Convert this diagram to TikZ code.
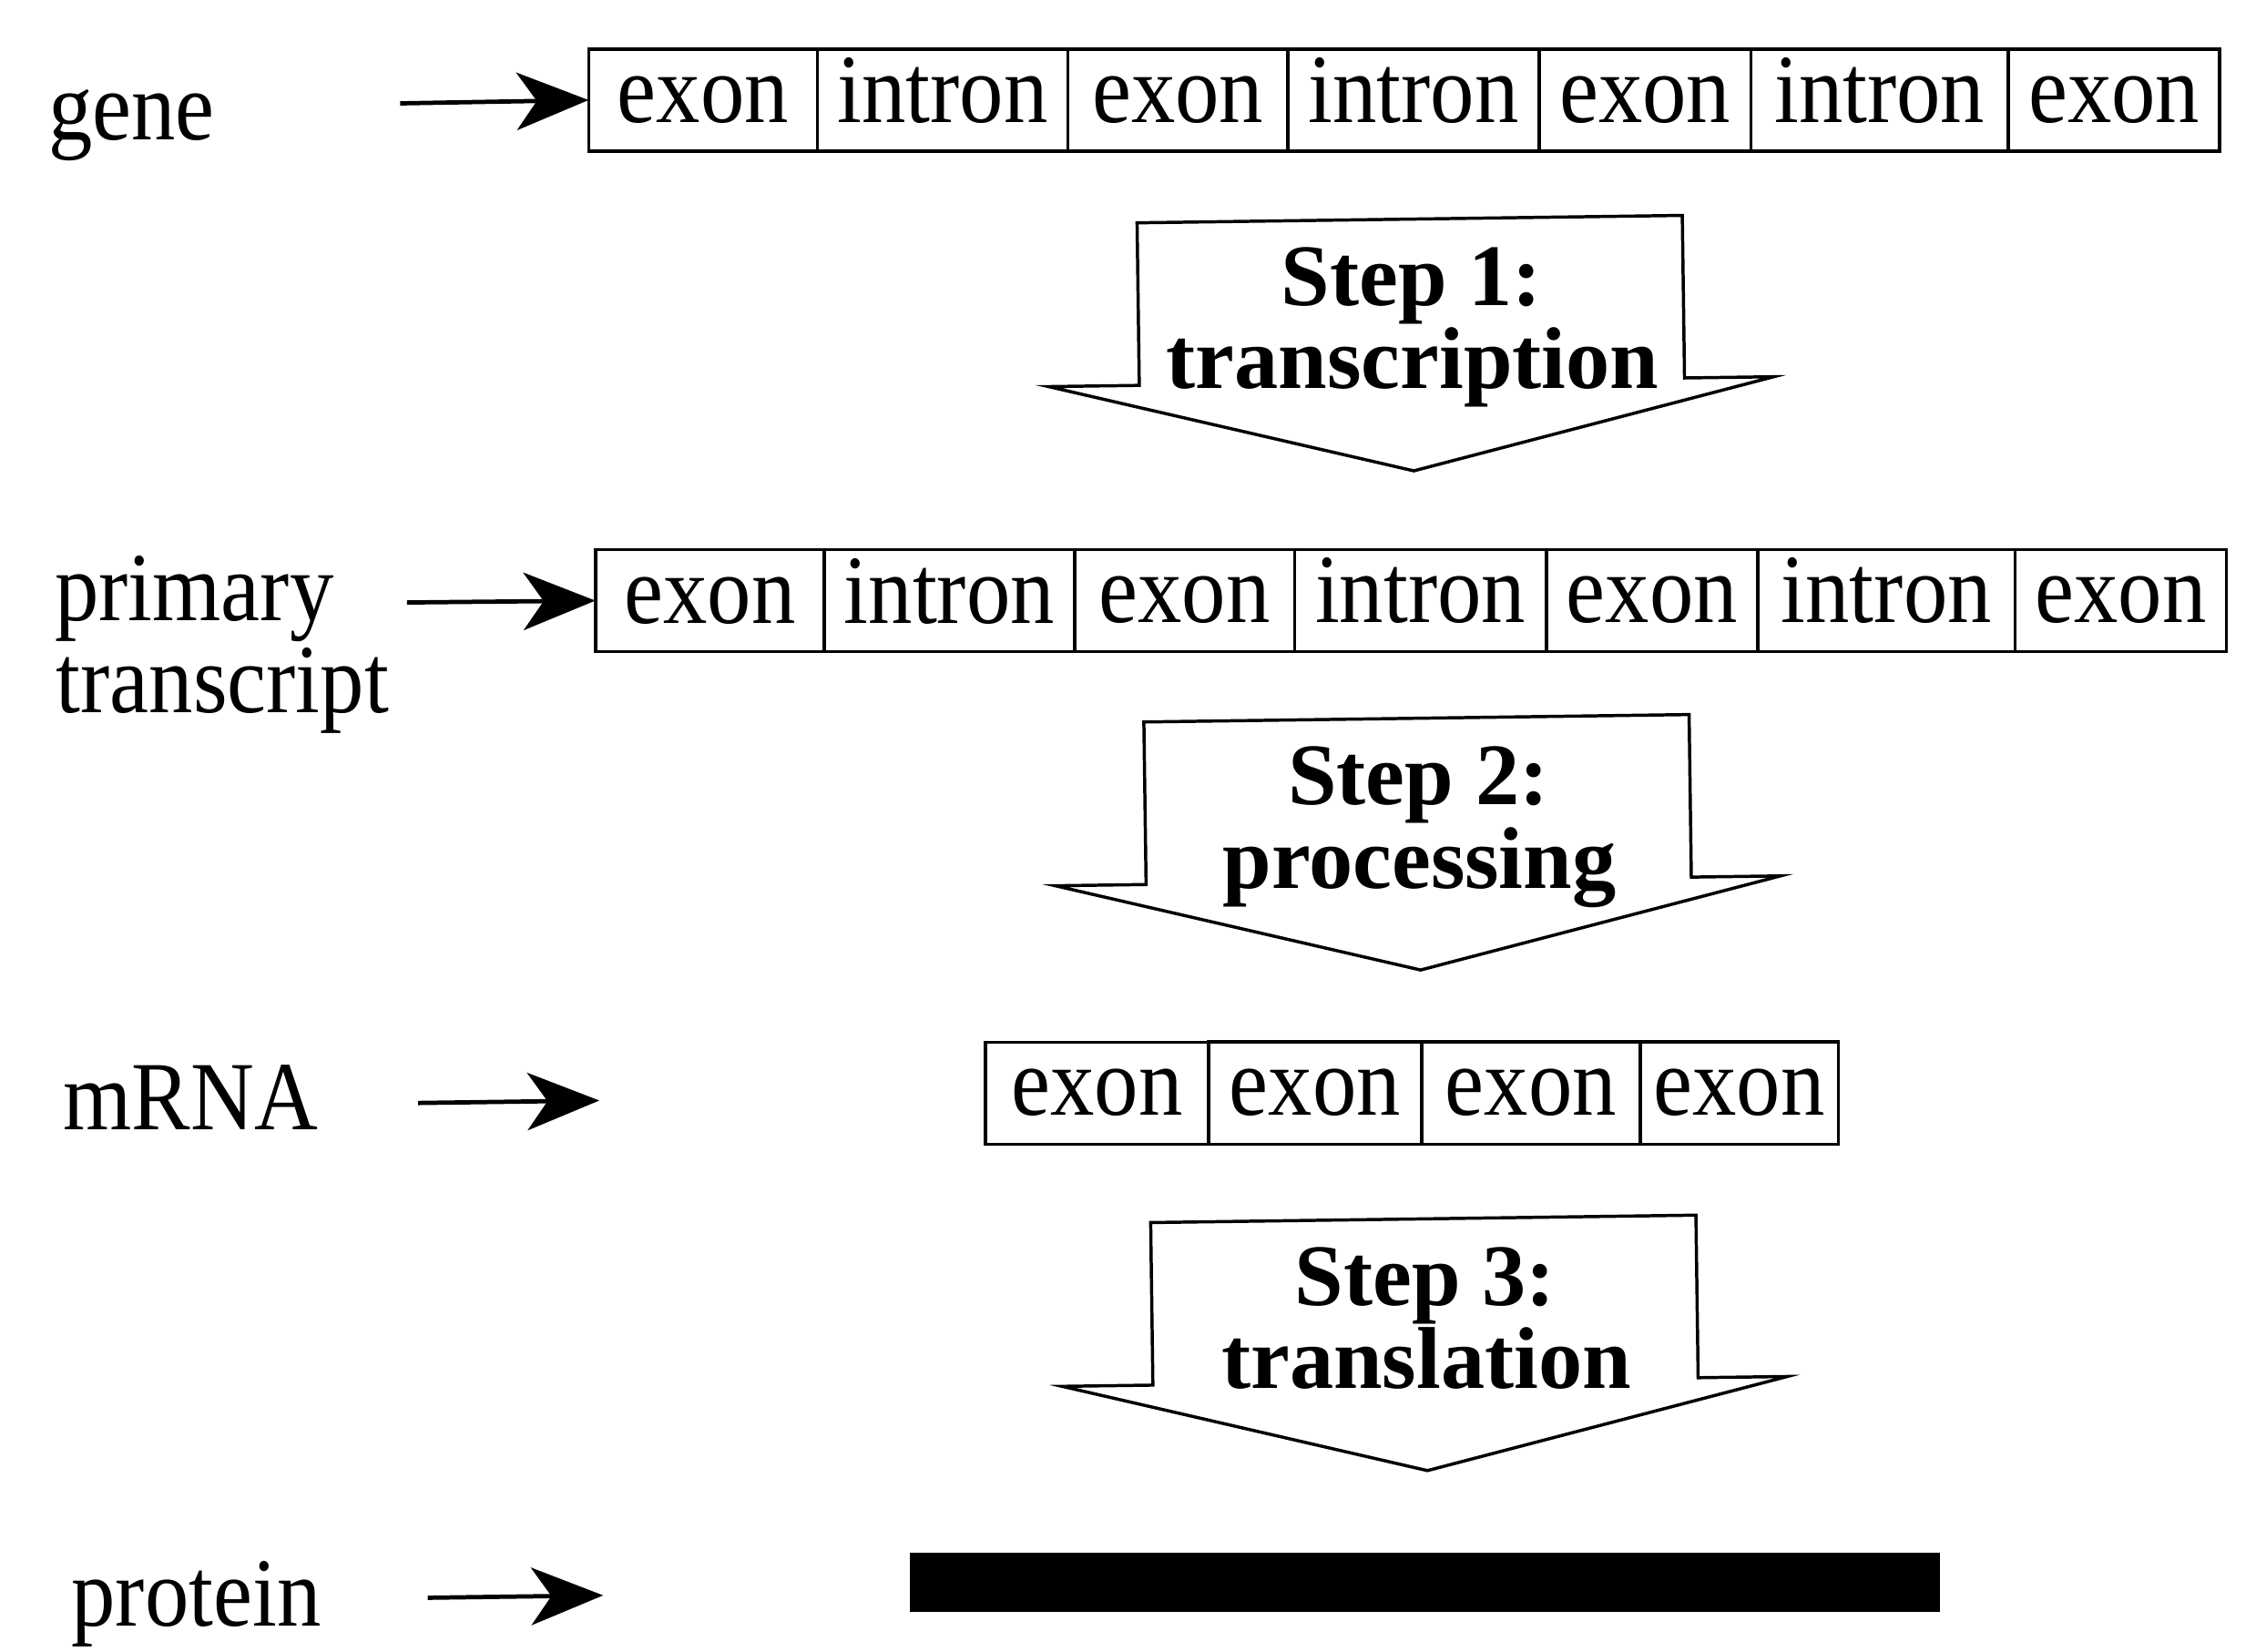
\documentclass[tikz,border=0pt]{standalone}
\usepackage{fontspec}
\setmainfont{Liberation Serif}[FakeStretch=0.9]
\newfontfamily\stepfont{Liberation Serif}
\usetikzlibrary{positioning,arrows.meta}

\begin{document}
\begin{tikzpicture}[x=1pt,y=-1pt,font=\fontsize{68}{60}\selectfont,
    cell/.style={draw,line width=2.2pt,inner sep=0pt,outer sep=0pt,minimum height=71pt,text height=31pt,text depth=0pt},
    lab/.style={anchor=base west,inner sep=0pt},
    labarrow/.style={line width=3pt,-{Stealth[length=50pt,width=40pt,inset=14pt]}},
    steparrow/.style={draw,fill=white,line width=2.2pt,line join=miter},
    steptext/.style={anchor=base,inner sep=0pt,font=\fontsize{61}{58}\stepfont\bfseries}]

    \useasboundingbox (0,0) rectangle (1568,1148);

    \begin{scope}[rotate around={0.78:(784,574)}]

        % gene
        \node[lab] (gene) at (40,87) {gene};
        \node[cell,minimum width=159pt,anchor=north west] (g1) at (416.5,29) {exon};
        \node[cell,minimum width=174pt,right=0pt of g1] (g2) {intron};
        \node[cell,minimum width=153pt,right=0pt of g2] (g3) {exon};
        \node[cell,minimum width=175pt,right=0pt of g3] (g4) {intron};
        \node[cell,minimum width=147pt,right=0pt of g4] (g5) {exon};
        \node[cell,minimum width=179pt,right=0pt of g5] (g6) {intron};
        \node[cell,minimum width=147pt,right=0pt of g6] (g7) {exon};
        \coordinate (ga) at (285,65);
        \draw[labarrow] (ga) -- (g1.west);

        % primary transcript
        \node[lab] (pt1) at (40,421) {primary};
        \node[lab] (pt2) at (40,485) {transcript};
        \node[cell,minimum width=159pt,anchor=north west] (p1) at (416.5,377) {exon};
        \node[cell,minimum width=174pt,right=0pt of p1] (p2) {intron};
        \node[cell,minimum width=153pt,right=0pt of p2] (p3) {exon};
        \node[cell,minimum width=175pt,right=0pt of p3] (p4) {intron};
        \node[cell,minimum width=147pt,right=0pt of p4] (p5) {exon};
        \node[cell,minimum width=179pt,right=0pt of p5] (p6) {intron};
        \node[cell,minimum width=147pt,right=0pt of p6] (p7) {exon};
        \coordinate (pa) at (285,412);
        \draw[labarrow] (pa) -- (p1.west);

        % mRNA
        \node[lab] (mrna) at (41,775) {mRNA};
        \node[cell,minimum width=155pt,anchor=north west] (m1) at (683,723) {exon};
        \node[cell,minimum width=148pt,right=0pt of m1] (m2) {exon};
        \node[cell,minimum width=152pt,right=0pt of m2] (m3) {exon};
        \node[cell,minimum width=138pt,right=0pt of m3] (m4) {exon};
        \coordinate (ma) at (288,760);
        \coordinate (mb) at (414,760);
        \draw[labarrow] (ma) -- (mb);

        % protein
        \node[lab] (prot) at (42,1120) {protein};
        \node[fill=black,inner sep=0pt,minimum width=716pt,minimum height=41pt,anchor=north west] (bar) at (625,1077) {};
        \coordinate (ra) at (290,1104);
        \coordinate (rb) at (412,1104);
        \draw[labarrow] (ra) -- (rb);

        % steps
        \foreach \t/\n/\txt in {155/1/transcription,502/2/processing,850/3/translation} {
            \draw[steparrow] (796,\t) -- (1175,\t) -- (1175,\t+113) -- (1237,\t+113)
                -- (986,\t+175) -- (733,\t+113) -- (796,\t+113) -- cycle;
            \node[steptext] (s\n) at (986,\t+60) {Step \n:};
            \node[steptext] (t\n) at (986,\t+118) {\txt};
        }

    \end{scope}
\end{tikzpicture}
\end{document}
